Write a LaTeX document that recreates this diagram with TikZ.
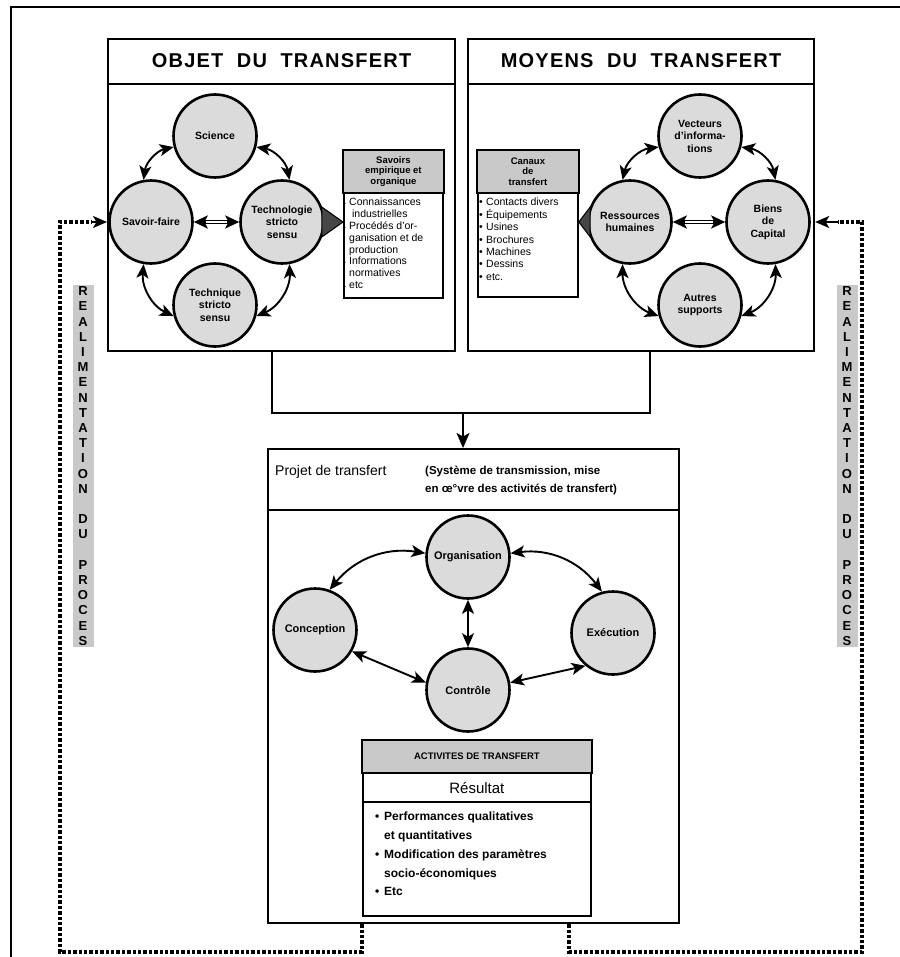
\documentclass[tikz,border=0pt]{standalone}
\usepackage{fontspec}
\setmainfont{Liberation Sans}
\newfontfamily\spacedfont[LetterSpace=6]{Liberation Sans}
\usetikzlibrary{arrows.meta,calc}
\newcommand{\sbul}{\makebox[5pt][l]{\tiny\textbullet}}
\newcommand{\snob}{\makebox[5pt][l]{}}
\newcommand{\mbul}{\makebox[7pt][l]{\textbullet}}
\newcommand{\lbul}{\makebox[9pt][l]{\textbullet}}
\newcommand{\lnob}{\makebox[9pt][l]{}}
\begin{document}
\begin{tikzpicture}[x=1pt,y=1pt,
  panel/.style={draw,line width=2.2pt,anchor=north west,inner sep=0pt,fill=white},
  inbox/.style={draw,line width=1.8pt,anchor=north west,inner sep=0pt,fill=white},
  circ/.style={circle,draw,line width=2.6pt,fill=gray!28,minimum size=83pt,inner sep=0pt,align=center,font=\bfseries\fontsize{10.5}{12.5}\selectfont},
  dbl/.style={line width=1.9pt,{Stealth[length=14pt,width=12pt,inset=3.5pt]}-{Stealth[length=14pt,width=12pt,inset=3.5pt]}},
  hollow/.style={line width=3.8pt,{Stealth[length=14pt,width=13pt,inset=3.5pt]}-{Stealth[length=14pt,width=13pt,inset=3.5pt]}},
  fb/.style={line width=3.6pt,dash pattern=on 3.4pt off 2pt},
  shade/.style={fill=gray!42},
  strip/.style={fill=gray!42,inner xsep=3pt,inner ysep=2pt,align=center,text width=15pt,font=\bfseries\fontsize{13}{15.2}\selectfont},
  ]
\useasboundingbox (0,0) rectangle (899,-957);
\fill[white] (0,0) rectangle (899,-957);
% outer frame
\draw[line width=2.2pt] (11,-970) -- (11,-7) -- (910,-7);

% ===== panels =====
\node[panel,minimum width=347pt,minimum height=312pt] (obj) at (107,-38) {};
\node[panel,minimum width=346pt,minimum height=312pt] (moy) at (467,-38) {};
\draw[line width=2.2pt] ($(obj.north west)+(0,-46)$) -- ($(obj.north east)+(0,-46)$);
\draw[line width=2.2pt] ($(moy.north west)+(0,-46)$) -- ($(moy.north east)+(0,-46)$);
\node[font=\spacedfont\bfseries\fontsize{20}{24}\selectfont] (objt) at ($(obj.north)+(0,-23)$) {OBJET\ \ DU\ \ TRANSFERT};
\node[font=\spacedfont\bfseries\fontsize{20}{24}\selectfont] (moyt) at ($(moy.north)+(0,-23)$) {MOYENS\ \ DU\ \ TRANSFERT};

% ----- left circles -----
\node[circ] (S) at (215,-136) {Science};
\node[circ] (F) at (151,-222) {Savoir-faire};
\node[circ] (T) at (282,-222) {Technologie\\stricto\\sensu};
\node[circ] (Q) at (215,-305) {Technique\\stricto\\sensu};
\draw[dbl] (S.195) to[bend right=35] (F.100);
\draw[dbl] (S.-15) to[bend left=35] (T.80);
\draw[dbl] (F.-100) to[bend right=35] (Q.195);
\draw[dbl] (T.-80) to[bend left=35] (Q.-15);
\draw[hollow] (F.east) -- (T.west);
\draw[white,line width=1.4pt,shorten <=12pt,shorten >=12pt] (F.east) -- (T.west);

% Savoirs box
\node[inbox,minimum width=99pt,minimum height=147pt] (sav) at (343,-150) {};
\filldraw[shade,line width=1.8pt] (sav.north west) rectangle ($(sav.north east)+(0,-43)$);
\node[font=\bfseries\fontsize{9.5}{10.5}\selectfont,align=center] (savh) at ($(sav.north)+(0,-21.5)$) {Savoirs\\empirique et\\organique};
\node[anchor=north west,align=left,inner sep=0pt,font=\fontsize{10.5}{11.8}\selectfont] (savb) at ($(sav.north west)+(1,-48)$)
 {\sbul Connaissances\\\snob\ industrielles\\\sbul Procédés d'or-\\\snob ganisation et de\\\snob production\\\sbul Informations\\\snob normatives\\\sbul etc};
\filldraw[fill=gray!55!black,draw=black,line width=1pt] ($(T.east)+(-3,15)$) -- ($(T.east)+(-3,-15)$) -- (T -| sav.west) -- cycle;

% ----- right circles -----
\node[circ] (V) at (700,-136) {Vecteurs\\d'informa-\\tions};
\node[circ] (R) at (630,-222) {Ressources\\humaines};
\node[circ] (B) at (768,-222) {Biens\\de\\Capital};
\node[circ] (A) at (700,-305) {Autres\\supports};
\draw[dbl] (V.195) to[bend right=35] (R.100);
\draw[dbl] (V.-15) to[bend left=35] (B.80);
\draw[dbl] (R.-100) to[bend right=35] (A.195);
\draw[dbl] (B.-80) to[bend left=35] (A.-15);
\draw[hollow] (R.east) -- (B.west);
\draw[white,line width=1.4pt,shorten <=12pt,shorten >=12pt] (R.east) -- (B.west);

% Canaux box
\node[inbox,minimum width=100pt,minimum height=146pt] (can) at (477,-150) {};
\filldraw[shade,line width=1.8pt] (can.north west) rectangle ($(can.north east)+(0,-43)$);
\node[font=\bfseries\fontsize{9.5}{10.5}\selectfont,align=center] (canh) at ($(can.north)+(0,-21.5)$) {Canaux\\de\\transfert};
\node[anchor=north west,align=left,inner sep=0pt,font=\fontsize{10.5}{12.4}\selectfont] (canb) at ($(can.north west)+(2,-48)$)
 {\mbul Contacts divers\\\mbul Équipements\\\mbul Usines\\\mbul Brochures\\\mbul Machines\\\mbul Dessins\\\mbul etc.};
\filldraw[fill=gray!55!black,draw=black,line width=1pt] ($(R.west)+(3,15)$) -- ($(R.west)+(3,-15)$) -- (R -| can.east) -- cycle;

% ===== connector to project =====
\node[panel,minimum width=411pt,minimum height=474pt] (proj) at (267,-448) {};
\coordinate (j1) at (272,-413);
\coordinate (j2) at (650,-413);
\coordinate (j3) at (463,-413);
\draw[line width=1.9pt] (obj.south -| j1) -- (j1) -- (j2) -- (moy.south -| j2);
\draw[line width=1.9pt,-{Stealth[length=15pt,width=13pt,inset=3.5pt]}] (j3) -- (j3 |- proj.north);

\draw[line width=2.2pt] ($(proj.north west)+(0,-62)$) -- ($(proj.north east)+(0,-62)$);
\node[anchor=base west,inner sep=0pt,font=\fontsize{14}{16}\selectfont] (pt1) at (275,-475) {Projet de transfert};
\node[anchor=base west,inner sep=0pt,font=\bfseries\fontsize{11.5}{14}\selectfont] (pt2) at (425,-474) {(Système de transmission, mise};
\node[anchor=base west,inner sep=0pt,font=\bfseries\fontsize{11.5}{14}\selectfont] (pt3) at (425,-492) {en œ°vre des activités de transfert)};

% ----- bottom circles -----
\node[circ,font=\bfseries\fontsize{11}{12.5}\selectfont] (O) at (468,-557) {Organisation};
\node[circ,font=\bfseries\fontsize{11}{12.5}\selectfont] (C) at (315,-630) {Conception};
\node[circ,font=\bfseries\fontsize{11}{12.5}\selectfont] (E) at (613,-633) {Exécution};
\node[circ,font=\bfseries\fontsize{11}{12.5}\selectfont] (K) at (468,-690) {Contrôle};
\draw[dbl] (O.175) to[bend right=30] (C.70);
\draw[dbl] (O.5) to[bend left=30] (E.105);
\draw[dbl] (O.south) -- (K.north);
\draw[dbl] (C.-30) -- (K.170);
\draw[dbl] (K.10) -- (E.-130);

% ACTIVITES box
\node[inbox,minimum width=228pt,minimum height=175pt] (act) at (362,-740) {};
\filldraw[shade,line width=1.8pt] (act.north west) rectangle ($(act.north east)+(0,-33)$);
\draw[line width=1.8pt] ($(act.north west)+(0,-62)$) -- ($(act.north east)+(0,-62)$);
\node[font=\bfseries\fontsize{9.5}{11}\selectfont] (acth) at ($(act.north)+(0,-16.5)$) {ACTIVITES DE TRANSFERT};
\node[font=\fontsize{15}{17}\selectfont] (res) at ($(act.north)+(0,-48)$) {Résultat};
\node[anchor=north west,align=left,inner sep=0pt,font=\bfseries\fontsize{12}{18.7}\selectfont] (actb) at (375,-812)
 {\lbul Performances qualitatives\\\lnob et quantitatives\\\lbul Modification des paramètres\\\lnob socio-économiques\\\lbul Etc};

% ===== feedback loops =====
\node[strip] (ls) at (83,-466) {R\\E\\A\\L\\I\\M\\E\\N\\T\\A\\T\\I\\O\\N\\~\\D\\U\\~\\P\\R\\O\\C\\E\\S};
\node[strip] (rs) at (847,-466) {R\\E\\A\\L\\I\\M\\E\\N\\T\\A\\T\\I\\O\\N\\~\\D\\U\\~\\P\\R\\O\\C\\E\\S};
\coordinate (l1) at (362,-952);
\coordinate (l2) at (60,-952);
\coordinate (l3) at (60,-222);
\coordinate (l4) at (92,-222);
\draw[fb] (l1 |- proj.south) -- (l1) -- (l2) -- (l3) -- (l4);
\draw[line width=1.9pt,-{Stealth[length=14pt,width=12pt,inset=3.5pt]}] (l4) -- (l4 -| obj.west);
\coordinate (r1) at (569,-952);
\coordinate (r2) at (862,-952);
\coordinate (r3) at (862,-222);
\coordinate (r4) at (838,-222);
\draw[fb] (r1 |- proj.south) -- (r1) -- (r2) -- (r3) -- (r4);
\draw[line width=1.9pt,-{Stealth[length=14pt,width=12pt,inset=3.5pt]}] (r4) -- (r4 -| moy.east);
\end{tikzpicture}
\end{document}
